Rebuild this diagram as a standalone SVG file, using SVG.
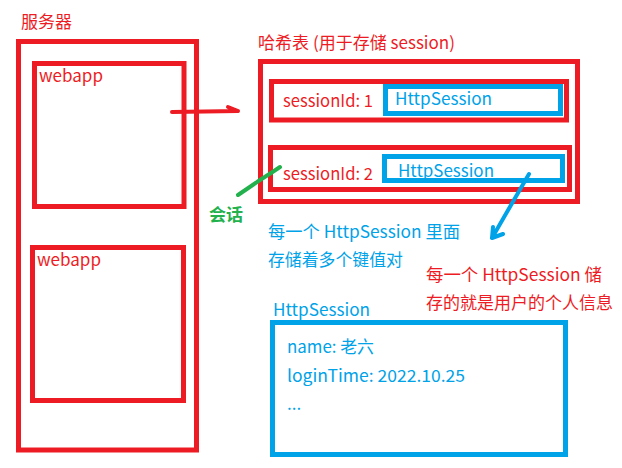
<svg xmlns="http://www.w3.org/2000/svg" width="622" height="468" viewBox="0 0 622 468">
<style>
.r{fill:none;stroke:#ed1c24;stroke-width:5}
.b{fill:none;stroke:#00a2e8;stroke-width:5}
text{font-family:"Microsoft YaHei","Noto Sans CJK SC","Noto Sans",sans-serif;font-size:17px}
.tr{fill:#ed1c24}
.tb{fill:#00a2e8}
.tg{fill:#22b14c;font-weight:bold}
</style>
<rect width="622" height="468" fill="#ffffff"/>
<g id="server">
<text class="tr" x="21" y="28" textLength="51" lengthAdjust="spacingAndGlyphs">服务器</text>
<rect class="r" x="18.5" y="41.5" width="178" height="408.5"/>
</g>
<g id="webapp1">
<rect class="r" x="34.5" y="63.5" width="149.5" height="143"/>
<text class="tr" x="39" y="82" textLength="64" lengthAdjust="spacingAndGlyphs">webapp</text>
</g>
<g id="webapp2">
<rect class="r" x="32.5" y="247.5" width="151" height="153"/>
<text class="tr" x="37" y="266" textLength="64" lengthAdjust="spacingAndGlyphs">webapp</text>
</g>
<g id="hashtable">
<text class="tr" x="258" y="49" textLength="197" lengthAdjust="spacingAndGlyphs">哈希表 (用于存储 session)</text>
<rect class="r" x="260.5" y="61.5" width="317" height="140"/>
</g>
<g id="entry1">
<rect class="r" x="271.5" y="81.5" width="295" height="38.5"/>
<text class="tr" x="283" y="107" textLength="90" lengthAdjust="spacingAndGlyphs">sessionId: 1</text>
<rect class="b" x="385.5" y="86.5" width="175" height="27"/>
<text class="tb" x="395" y="105" textLength="97" lengthAdjust="spacingAndGlyphs">HttpSession</text>
</g>
<g id="entry2">
<rect class="r" x="270.5" y="147.5" width="299" height="42"/>
<text class="tr" x="283" y="180" textLength="90" lengthAdjust="spacingAndGlyphs">sessionId: 2</text>
<rect class="b" x="384.5" y="156.5" width="178" height="24"/>
<text class="tb" x="398" y="177" textLength="96" lengthAdjust="spacingAndGlyphs">HttpSession</text>
</g>
<g id="session-label">
<text class="tg" x="209" y="221" textLength="34" lengthAdjust="spacingAndGlyphs">会话</text>
</g>
<g id="note1">
<text class="tb" x="268" y="238" textLength="192" lengthAdjust="spacingAndGlyphs">每一个 HttpSession 里面</text>
<text class="tb" x="268" y="266" textLength="135" lengthAdjust="spacingAndGlyphs">存储着多个键值对</text>
</g>
<g id="note2">
<text class="tr" x="426" y="281" textLength="176" lengthAdjust="spacingAndGlyphs">每一个 HttpSession 储</text>
<text class="tr" x="426" y="309" textLength="187" lengthAdjust="spacingAndGlyphs">存的就是用户的个人信息</text>
</g>
<g id="httpsession">
<text class="tb" x="273" y="316" textLength="97" lengthAdjust="spacingAndGlyphs">HttpSession</text>
<rect class="b" x="272.5" y="322.5" width="293" height="132"/>
<text class="tb" x="287" y="353" textLength="87" lengthAdjust="spacingAndGlyphs">name: 老六</text>
<text class="tb" x="287" y="382" textLength="178" lengthAdjust="spacingAndGlyphs">loginTime: 2022.10.25</text>
<text class="tb" x="287" y="410">...</text>
</g>
<g id="connectors" fill="none" stroke-linecap="round" stroke-linejoin="round">
<path d="M172 112 L238 111 M228 107 L238 111" stroke="#ed1c24" stroke-width="4"/>
<path d="M238 195 L260 180 L271 173 L280 167" stroke="#22b14c" stroke-width="4"/>
<path d="M529 174 L492 238 M492 238 L503 234 M492 238 L493 227" stroke="#00a2e8" stroke-width="4"/>
</g>
</svg>
